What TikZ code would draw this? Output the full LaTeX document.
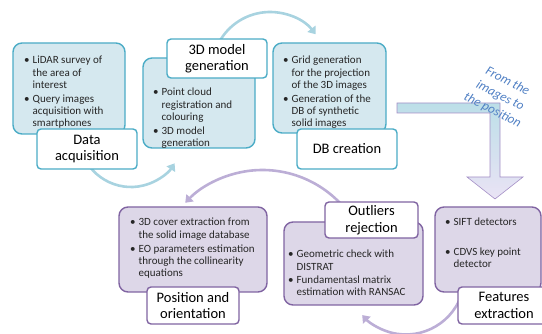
\documentclass[tikz,border=0pt]{standalone}
\usepackage{fontspec}
\setmainfont{Carlito}
\usetikzlibrary{arrows.meta}
\definecolor{aqualine}{HTML}{4BACC6}
\definecolor{aquafill}{HTML}{D5E8EF}
\definecolor{violetline}{HTML}{8064A2}
\definecolor{violetfill}{HTML}{DDD7E8}
\definecolor{aquaarc}{HTML}{A8D3E0}
\definecolor{violetarc}{HTML}{BCAED6}
\definecolor{flowblue}{HTML}{5080C4}
\definecolor{bodytext}{HTML}{262626}
\definecolor{bendtop}{HTML}{BCDFE8}
\definecolor{bendmid}{HTML}{D6CBEA}
\definecolor{bendlow}{HTML}{EAE3F5}
\definecolor{bendline}{HTML}{A48FC6}

\begin{document}
\begin{tikzpicture}[x=1pt,y=-1pt,
  body/.style={line width=1.4pt, rounded corners=9pt},
  aquabody/.style={body, draw=aqualine, fill=aquafill},
  violetbody/.style={body, draw=violetline, fill=violetfill},
  tag/.style={line width=1.4pt, rounded corners=4pt, fill=white, align=center,
    inner sep=0pt, font=\fontsize{14.5}{16.5}\selectfont},
  items/.style={inner sep=0pt, anchor=base west, text=bodytext,
    font=\fontsize{11}{12.2}\selectfont},
  loop/.style={line width=2.6pt, -{Triangle[length=7pt,width=10pt]}}]
  \clip (0,0) rectangle (542,334);

  % circular arrows between the steps
  \coordinate (c1) at (131,135);
  \coordinate (c2) at (270,70);
  \coordinate (c3) at (262.5,277.4);
  \coordinate (c4) at (405.9,275.7);
  \draw[loop, aquaarc]   (c1) ++(160:52) arc[start angle=160, end angle=33, radius=52];
  \draw[loop, aquaarc]   (c2) ++(208:58) arc[start angle=208, end angle=322, radius=58];
  \draw[loop, violetarc] (c3) ++(320:107.4) arc[start angle=320, end angle=224, radius=107.4];
  \draw[loop, violetarc] (c4) ++(20:58.8) arc[start angle=20, end angle=138, radius=58.8];

  % bent arrow from the upper row to the lower one
  \shade[top color=bendtop, middle color=bendmid, bottom color=bendlow, draw=bendline, line width=0.6pt]
    (397,103) -- (500,103) -- (500,177) -- (523,177) -- (495,199) -- (467,177)
    -- (490,177) -- (490,113) -- (397,113) -- cycle;
  \node[rotate=-27, align=center, text=flowblue, inner sep=0pt,
    font=\fontsize{13}{16.5}\selectfont\itshape] (flow) at (500,96)
    {From the\\images to\\the position};

  % upper row
  \node[aquabody, minimum width=112pt, minimum height=91pt] (acqbody) at (69,88.5) {};
  \node[aquabody, minimum width=112pt, minimum height=90pt] (modbody) at (199,103) {};
  \node[aquabody, minimum width=113pt, minimum height=90pt] (dbbody) at (329.5,88) {};
  \node[items] (acqtxt) at (24,64) {\begin{tabular}[t]{@{}l@{\hspace{3pt}}l@{}}
    \textbullet & LiDAR survey of\\ & the area of\\ & interest\\[2pt]
    \textbullet & Query images\\ & acquisition with\\ & smartphones\end{tabular}};
  \node[items] (modtxt) at (153,96) {\begin{tabular}[t]{@{}l@{\hspace{3pt}}l@{}}
    \textbullet & Point cloud\\ & registration and\\ & colouring\\[2pt]
    \textbullet & 3D model\\ & generation\end{tabular}};
  \node[items] (dbtxt) at (283,64) {\begin{tabular}[t]{@{}l@{\hspace{3pt}}l@{}}
    \textbullet & Grid generation\\ & for the projection\\ & of the 3D images\\[2pt]
    \textbullet & Generation of the\\ & DB of synthetic\\ & solid images\end{tabular}};
  \node[tag, draw=aqualine, minimum width=100pt, minimum height=40pt] (acqtag) at (87,149) {Data\\acquisition};
  \node[tag, draw=aqualine, minimum width=100pt, minimum height=39pt] (modtag) at (217,58.5) {3D model\\generation};
  \node[tag, draw=aqualine, minimum width=100pt, minimum height=40pt] (dbtag) at (347,149) {DB creation};

  % lower row
  \node[violetbody, minimum width=148pt, minimum height=85pt] (posbody) at (193,249.5) {};
  \node[violetbody, minimum width=139pt, minimum height=83pt] (outbody) at (353.5,263.5) {};
  \node[violetbody, minimum width=106pt, minimum height=85pt] (featbody) at (488,249.5) {};
  \node[items] (postxt) at (130,226) {\begin{tabular}[t]{@{}l@{\hspace{3pt}}l@{}}
    \textbullet & 3D cover extraction from\\ & the solid image database\\[2pt]
    \textbullet & EO parameters estimation\\ & through the collinearity\\ & equations\end{tabular}};
  \node[items] (outtxt) at (288,258) {\begin{tabular}[t]{@{}l@{\hspace{3pt}}l@{}}
    \textbullet & Geometric check with\\ & DISTRAT\\[1pt]
    \textbullet & Fundamentasl matrix\\ & estimation with RANSAC\end{tabular}};
  \node[items] (feattxt) at (445,226) {\begin{tabular}[t]{@{}l@{\hspace{3pt}}l@{}}
    \textbullet & SIFT detectors\\[17pt]
    \textbullet & CDVS key point\\ & detector\end{tabular}};
  \node[tag, draw=violetline, minimum width=92pt, minimum height=37pt] (postag) at (193,305.5) {Position and\\orientation};
  \node[tag, draw=violetline, minimum width=93pt, minimum height=36pt] (outtag) at (371.5,220) {Outliers\\rejection};
  \node[tag, draw=violetline, minimum width=92pt, minimum height=37pt] (feattag) at (504,305.5) {Features\\extraction};
\end{tikzpicture}
\end{document}
